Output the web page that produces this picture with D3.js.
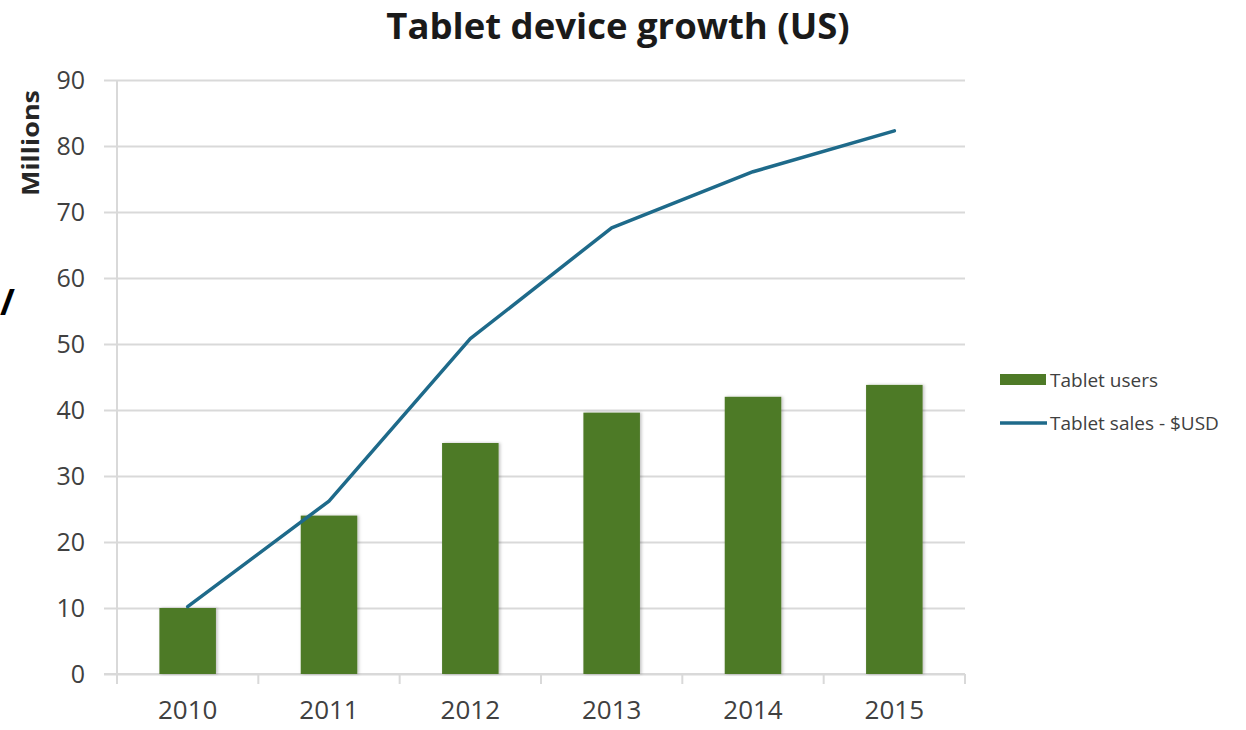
<!DOCTYPE html>
<html>
<head>
<meta charset="utf-8">
<script src="https://cdn.jsdelivr.net/npm/d3@7"></script>
<style>
  html, body { margin: 0; padding: 0; background: #fff; }
  svg { display: block; font-family: "Open Sans", "Noto Sans", sans-serif; }
</style>
</head>
<body>
<svg id="chart" width="1246" height="730"></svg>
<script>
// values (millions)
const years = ["2010", "2011", "2012", "2013", "2014", "2015"];
const tabletUsers = [10, 24, 35, 39.6, 42, 43.8];
const tabletSales = [10.2, 26.2, 50.8, 67.6, 76.1, 82.3];
const yTicks = [0, 10, 20, 30, 40, 50, 60, 70, 80, 90];

const W = 1246, H = 730;
const m = { top: 80, right: 281, bottom: 56, left: 117 };
const w = W - m.left - m.right;
const h = H - m.top - m.bottom;

const barColor = "#4e7a27";
const lineColor = "#1e6a8a";
const gridColor = "#d9d9d9";
const textColor = "#404040";

const svg = d3.select("#chart");

const defs = svg.append("defs");
const f = defs.append("filter").attr("id", "barShadow")
    .attr("x", "-20%").attr("y", "-10%").attr("width", "140%").attr("height", "120%");
f.append("feDropShadow").attr("dx", 1.5).attr("dy", 0).attr("stdDeviation", 1.5)
    .attr("flood-color", "#000").attr("flood-opacity", 0.25);

const g = svg.append("g").attr("transform", `translate(${m.left},${m.top})`);

const x = d3.scaleBand().domain(years).range([0, w]).paddingInner(0.6).paddingOuter(0.3);
const y = d3.scaleLinear().domain([0, 90]).range([h, 0]);

// horizontal gridlines, running a bit left of the axis as ticks
g.append("g")
    .call(d3.axisLeft(y).tickValues(yTicks).tickSize(0).tickFormat(""))
    .call(g => g.select(".domain").remove())
    .call(g => g.selectAll("line").attr("stroke", gridColor).attr("stroke-width", 2)
        .attr("x1", -13).attr("x2", w));

// y tick labels
g.append("g")
    .call(d3.axisLeft(y).tickValues(yTicks).tickSize(0).tickPadding(32))
    .attr("font-family", null)
    .call(g => g.select(".domain").remove())
    .call(g => g.selectAll("text").attr("fill", textColor).attr("font-size", 25));

// y axis line
g.append("line")
    .attr("x1", 0).attr("x2", 0).attr("y1", 0).attr("y2", h + 10)
    .attr("stroke", gridColor).attr("stroke-width", 2);

// x axis line and category boundary ticks
g.append("line")
    .attr("x1", -13).attr("x2", w).attr("y1", h).attr("y2", h)
    .attr("stroke", gridColor).attr("stroke-width", 2);
const step = x.step();
const x0 = x(years[0]) - x.paddingOuter() * step;
g.selectAll(".xtick").data(d3.range(years.length + 1)).enter().append("line")
    .attr("class", "xtick")
    .attr("x1", i => x0 + i * step)
    .attr("x2", i => x0 + i * step)
    .attr("y1", h).attr("y2", h + 10)
    .attr("stroke", gridColor).attr("stroke-width", 2);

// x labels
g.append("g").attr("transform", `translate(0,${h})`)
    .call(d3.axisBottom(x).tickSize(0).tickPadding(27))
    .attr("font-family", null)
    .call(g => g.select(".domain").remove())
    .call(g => g.selectAll("text").attr("fill", textColor).attr("font-size", 26));

// bars
g.selectAll(".bar").data(years).enter().append("rect")
    .attr("class", "bar")
    .attr("x", d => x(d))
    .attr("y", (d, i) => y(tabletUsers[i]))
    .attr("width", x.bandwidth())
    .attr("height", (d, i) => h - y(tabletUsers[i]))
    .attr("fill", barColor)
    .attr("filter", "url(#barShadow)");

// sales line
const line = d3.line()
    .x((d, i) => x(years[i]) + x.bandwidth() / 2)
    .y(d => y(d));
g.append("path").datum(tabletSales)
    .attr("fill", "none").attr("stroke", lineColor).attr("stroke-width", 3.5)
    .attr("stroke-linejoin", "round").attr("stroke-linecap", "round")
    .attr("d", line);

// title
svg.append("text")
    .attr("x", 618).attr("y", 39)
    .attr("text-anchor", "middle")
    .attr("font-size", 36.5).attr("font-weight", "bold").attr("fill", "#1a1a1a")
    .text("Tablet device growth (US)");

// y axis title
svg.append("text")
    .attr("transform", "translate(39,143) rotate(-90)")
    .attr("text-anchor", "middle")
    .attr("font-size", 23).attr("font-weight", "bold").attr("fill", "#262626")
    .attr("textLength", 106).attr("lengthAdjust", "spacingAndGlyphs")
    .text("Millions");

// stray glyph at the left edge of the reference
svg.append("text")
    .attr("x", 0).attr("y", 315)
    .attr("font-size", 36).attr("font-weight", "bold").attr("fill", "#000")
    .text("/");

// legend
const leg = svg.append("g").attr("transform", "translate(1000,380)");
leg.append("rect").attr("x", 0).attr("y", -6).attr("width", 46).attr("height", 11)
    .attr("fill", barColor);
leg.append("text").attr("x", 50).attr("y", 7)
    .attr("font-size", 19).attr("fill", textColor).text("Tablet users");
leg.append("line").attr("x1", 0).attr("x2", 47).attr("y1", 43).attr("y2", 43)
    .attr("stroke", lineColor).attr("stroke-width", 3.5);
leg.append("text").attr("x", 50).attr("y", 50)
    .attr("font-size", 19).attr("fill", textColor).text("Tablet sales - $USD");
</script>
</body>
</html>
